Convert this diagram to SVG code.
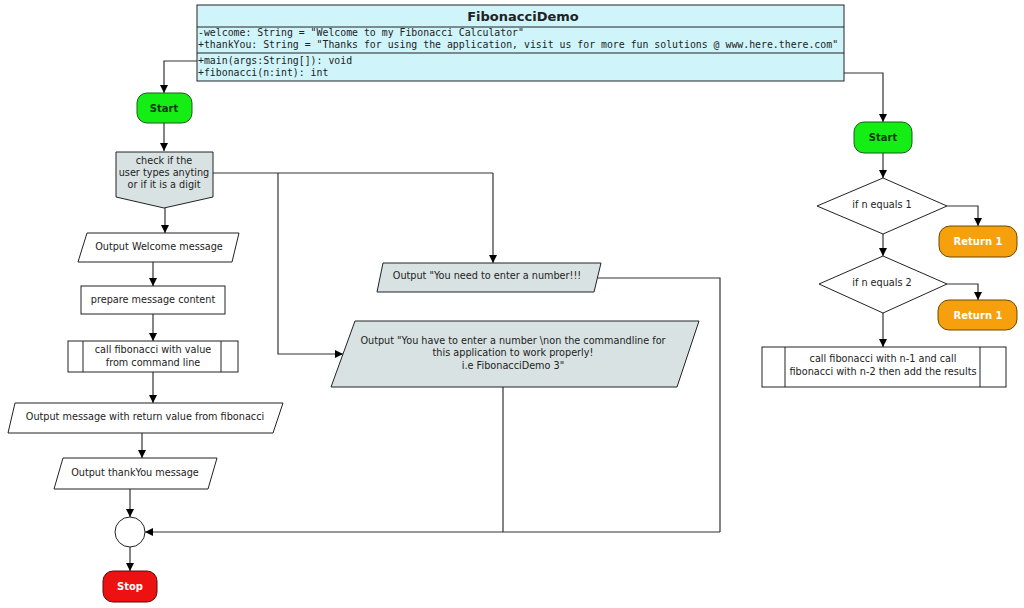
<svg xmlns="http://www.w3.org/2000/svg" width="1024" height="608" viewBox="0 0 1024 608">
<style>
.t{font-family:"DejaVu Sans",Verdana,sans-serif;font-size:9.7px;fill:#222;text-anchor:middle}
.b{font-family:"DejaVu Sans",Verdana,sans-serif;font-size:10px;font-weight:bold;text-anchor:middle}
.m{font-family:"DejaVu Sans Mono","Liberation Mono",monospace;font-size:9.85px;fill:#222}
.s{stroke:#222;stroke-width:1;fill:#fff}
.g{stroke:#222;stroke-width:1;fill:#d9e2e2}
.c{stroke:#333;stroke-width:1.2;fill:none;marker-end:url(#a)}
.n{stroke:#333;stroke-width:1.2;fill:none}
</style>
<defs>
<marker id="a" viewBox="0 0 10 10" refX="10" refY="5" markerWidth="8" markerHeight="8" markerUnits="userSpaceOnUse" orient="auto">
<path d="M0,0 L10,5 L0,10 z" fill="#000"/>
</marker>
</defs>
<rect width="1024" height="608" fill="#fff"/>

<g id="connectors">
<path class="c" d="M197,61 H164 V93"/>
<path class="c" d="M844,73 H883 V122"/>
<path class="c" d="M164,123 V151"/>
<path class="c" d="M165,208 V233"/>
<path class="n" d="M213,173 H493"/>
<path class="c" d="M493,173 V263"/>
<path class="c" d="M278,173 V354 H343"/>
<path class="c" d="M153,262 V286"/>
<path class="c" d="M153,314 V341"/>
<path class="c" d="M153,372 V403"/>
<path class="c" d="M142,433 V458"/>
<path class="c" d="M130,489 V517"/>
<path class="c" d="M130,547 V571"/>
<path class="n" d="M598,278 H720 V532"/>
<path class="n" d="M503,387 V532"/>
<path class="c" d="M720,532 H145"/>
<path class="c" d="M883,153 V178"/>
<path class="c" d="M947,206 H978 V226"/>
<path class="c" d="M883,234 V256"/>
<path class="c" d="M947,284 H978 V300"/>
<path class="c" d="M883,313 V347"/>
</g>

<g id="class">
<rect x="197" y="5" width="647" height="76" fill="#cff5fb" stroke="#222" stroke-width="1"/>
<line x1="197" y1="27" x2="844" y2="27" stroke="#222"/>
<line x1="197" y1="53" x2="844" y2="53" stroke="#222"/>
<text x="523" y="21" class="b" style="font-size:13px;fill:#222">FibonacciDemo</text>
<text x="198" y="36" class="m">-welcome: String = "Welcome to my Fibonacci Calculator"</text>
<text x="198" y="48" class="m">+thankYou: String = "Thanks for using the application, visit us for more fun solutions @ www.here.there.com"</text>
<text x="198" y="64" class="m">+main(args:String[]): void</text>
<text x="198" y="76" class="m">+fibonacci(n:int): int</text>
</g>

<g id="start1">
<rect x="137" y="93" width="55" height="30" rx="10" fill="#14ee14" stroke="#1a5a1a"/>
<text x="164" y="112" class="b" style="fill:#0a3a0a">Start</text>
</g>

<g id="check">
<path class="g" d="M116,152 H213 V197 L164,208 L116,197 Z"/>
<text x="164" y="164" class="t">check if the</text>
<text x="164" y="176" class="t">user types anyting</text>
<text x="164" y="188" class="t">or if it is a digit</text>
</g>

<g id="welcome">
<path class="s" d="M87,233 H239 L232,262 H78 Z"/>
<text x="159" y="250" class="t">Output Welcome message</text>
</g>

<g id="prepare">
<rect class="s" x="81" y="286" width="144" height="28"/>
<text x="153" y="303" class="t">prepare message content</text>
</g>

<g id="callfib">
<rect class="s" x="68" y="341" width="170" height="31"/>
<line x1="83" y1="341" x2="83" y2="372" stroke="#222"/>
<line x1="221" y1="341" x2="221" y2="372" stroke="#222"/>
<text x="153" y="353" class="t">call fibonacci with value</text>
<text x="153" y="366" class="t">from command line</text>
</g>

<g id="outmsg">
<path class="s" d="M15,403 H283 L273,433 H8 Z"/>
<text x="145" y="420" class="t">Output message with return value from fibonacci</text>
</g>

<g id="thanks">
<path class="s" d="M63,458 H217 L208,489 H54 Z"/>
<text x="135" y="476" class="t">Output thankYou message</text>
</g>

<g id="merge">
<circle class="s" cx="130" cy="532" r="15"/>
</g>

<g id="stop">
<rect x="103" y="571" width="54" height="31" rx="10" fill="#ee1111" stroke="#5a0a0a"/>
<text x="130" y="590" class="b" style="fill:#fff">Stop</text>
</g>

<g id="neednum">
<path class="g" d="M383,263 H601 L594,292 H377 Z"/>
<text x="487" y="279" class="t">Output "You need to enter a number!!!</text>
</g>

<g id="havenum">
<path class="g" d="M355,321 H699 L677,387 H331 Z"/>
<text x="513" y="344" class="t">Output "You have to enter a number \non the commandline for</text>
<text x="513" y="356" class="t">this application to work properly!</text>
<text x="513" y="369" class="t">i.e FibonacciDemo 3"</text>
</g>

<g id="start2">
<rect x="854" y="122" width="58" height="31" rx="10" fill="#14ee14" stroke="#1a5a1a"/>
<text x="883" y="141" class="b" style="fill:#0a3a0a">Start</text>
</g>

<g id="if1">
<path class="s" d="M883,178 L947,206 L883,234 L817,206 Z"/>
<text x="882" y="208" class="t">if n equals 1</text>
</g>

<g id="ret1">
<rect x="939" y="226" width="78" height="31" rx="11" fill="#f5a00c" stroke="#6a4a00"/>
<text x="978" y="245" class="b" style="fill:#fff">Return 1</text>
</g>

<g id="if2">
<path class="s" d="M883,256 L947,284 L883,313 L819,284 Z"/>
<text x="882" y="286" class="t">if n equals 2</text>
</g>

<g id="ret2">
<rect x="938" y="300" width="79" height="30" rx="11" fill="#f5a00c" stroke="#6a4a00"/>
<text x="978" y="319" class="b" style="fill:#fff">Return 1</text>
</g>

<g id="recurse">
<rect class="s" x="762" y="347" width="244" height="40"/>
<line x1="785" y1="347" x2="785" y2="387" stroke="#222"/>
<line x1="980" y1="347" x2="980" y2="387" stroke="#222"/>
<text x="883" y="362" class="t">call fibonacci with n-1 and call</text>
<text x="883" y="375" class="t">fibonacci with n-2 then add the results</text>
</g>
</svg>
